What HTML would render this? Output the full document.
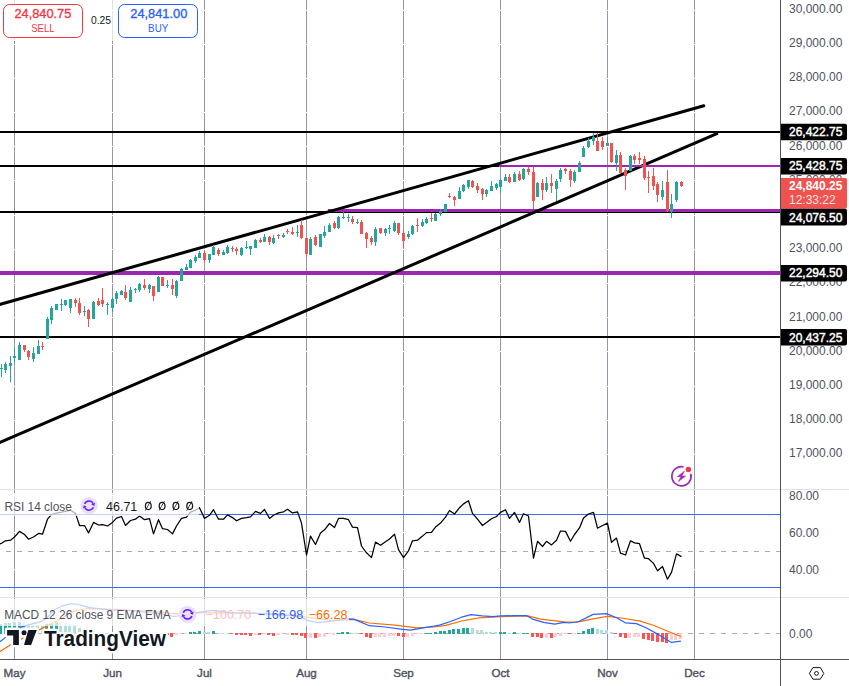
<!DOCTYPE html>
<html><head><meta charset="utf-8"><style>html,body{margin:0;padding:0;background:#fff;width:849px;height:686px;overflow:hidden}</style></head>
<body>
<svg width="849" height="686" viewBox="0 0 849 686" style="display:block">
<rect width="849" height="686" fill="#ffffff"/>
<rect x="14" y="0" width="1" height="659" fill="#9598a1"/>
<rect x="112" y="0" width="1" height="659" fill="#9598a1"/>
<rect x="204" y="0" width="1" height="659" fill="#9598a1"/>
<rect x="306" y="0" width="1" height="659" fill="#9598a1"/>
<rect x="403" y="0" width="1" height="659" fill="#9598a1"/>
<rect x="500" y="0" width="1" height="659" fill="#9598a1"/>
<rect x="607" y="0" width="1" height="659" fill="#9598a1"/>
<rect x="694" y="0" width="1" height="659" fill="#9598a1"/>
<rect x="0" y="454" width="780" height="1" fill="#ffffff"/>
<rect x="0" y="420" width="780" height="1" fill="#ffffff"/>
<rect x="0" y="386" width="780" height="1" fill="#ffffff"/>
<rect x="0" y="351" width="780" height="1" fill="#ffffff"/>
<rect x="0" y="317" width="780" height="1" fill="#ffffff"/>
<rect x="0" y="283" width="780" height="1" fill="#ffffff"/>
<rect x="0" y="249" width="780" height="1" fill="#ffffff"/>
<rect x="0" y="215" width="780" height="1" fill="#ffffff"/>
<rect x="0" y="180" width="780" height="1" fill="#ffffff"/>
<rect x="0" y="146" width="780" height="1" fill="#ffffff"/>
<rect x="0" y="112" width="780" height="1" fill="#ffffff"/>
<rect x="0" y="78" width="780" height="1" fill="#ffffff"/>
<rect x="0" y="44" width="780" height="1" fill="#ffffff"/>
<rect x="0" y="10" width="780" height="1" fill="#ffffff"/>
<rect x="0" y="495" width="780" height="1" fill="#ffffff"/>
<rect x="0" y="532" width="780" height="1" fill="#ffffff"/>
<rect x="0" y="569" width="780" height="1" fill="#ffffff"/>
<rect x="0" y="489" width="849" height="1" fill="#e0e3eb"/>
<rect x="0" y="597" width="849" height="1" fill="#e0e3eb"/>
<rect x="0" y="131" width="780" height="2" fill="#000"/>
<rect x="0" y="165" width="780" height="2" fill="#000"/>
<rect x="0" y="211" width="780" height="2" fill="#000"/>
<rect x="328" y="209" width="452" height="3" fill="#9c27b0"/>
<rect x="0" y="271" width="780" height="4" fill="#9c27b0"/>
<rect x="0" y="336" width="780" height="2" fill="#000"/>
<line x1="-2" y1="443.26" x2="718" y2="133.2" stroke="#000" stroke-width="3" stroke-linecap="butt"/>
<rect x="499" y="165" width="281" height="2" fill="#9c27b0"/>
<line x1="-2" y1="304.96" x2="703.8" y2="105.8" stroke="#000" stroke-width="3" stroke-linecap="round"/>
<rect x="1" y="364" width="1" height="13" fill="#26a69a"/>
<rect x="0" y="368" width="3" height="1" fill="#26a69a"/>
<rect x="5" y="362" width="1" height="11" fill="#26a69a"/>
<rect x="4" y="364" width="3" height="6" fill="#26a69a"/>
<rect x="10" y="356" width="1" height="26" fill="#26a69a"/>
<rect x="9" y="363" width="3" height="3" fill="#26a69a"/>
<rect x="14" y="347" width="1" height="15" fill="#26a69a"/>
<rect x="13" y="356" width="3" height="2" fill="#26a69a"/>
<rect x="19" y="342" width="1" height="18" fill="#26a69a"/>
<rect x="18" y="345" width="3" height="15" fill="#26a69a"/>
<rect x="24" y="345" width="1" height="7" fill="#ef5350"/>
<rect x="23" y="345" width="3" height="5" fill="#ef5350"/>
<rect x="28" y="350" width="1" height="10" fill="#ef5350"/>
<rect x="27" y="351" width="3" height="6" fill="#ef5350"/>
<rect x="33" y="347" width="1" height="15" fill="#26a69a"/>
<rect x="32" y="353" width="3" height="6" fill="#26a69a"/>
<rect x="38" y="340" width="1" height="14" fill="#26a69a"/>
<rect x="37" y="346" width="3" height="8" fill="#26a69a"/>
<rect x="42" y="342" width="1" height="8" fill="#ef5350"/>
<rect x="41" y="346" width="3" height="1" fill="#ef5350"/>
<rect x="47" y="317" width="1" height="22" fill="#26a69a"/>
<rect x="46" y="319" width="3" height="20" fill="#26a69a"/>
<rect x="51" y="306" width="1" height="18" fill="#26a69a"/>
<rect x="50" y="308" width="3" height="12" fill="#26a69a"/>
<rect x="56" y="304" width="1" height="6" fill="#26a69a"/>
<rect x="55" y="304" width="3" height="6" fill="#26a69a"/>
<rect x="61" y="299" width="1" height="12" fill="#26a69a"/>
<rect x="60" y="304" width="3" height="1" fill="#26a69a"/>
<rect x="65" y="300" width="1" height="6" fill="#26a69a"/>
<rect x="64" y="300" width="3" height="5" fill="#26a69a"/>
<rect x="70" y="299" width="1" height="14" fill="#26a69a"/>
<rect x="69" y="299" width="3" height="9" fill="#26a69a"/>
<rect x="75" y="298" width="1" height="9" fill="#ef5350"/>
<rect x="74" y="300" width="3" height="3" fill="#ef5350"/>
<rect x="79" y="298" width="1" height="17" fill="#ef5350"/>
<rect x="78" y="303" width="3" height="10" fill="#ef5350"/>
<rect x="84" y="306" width="1" height="10" fill="#26a69a"/>
<rect x="83" y="311" width="3" height="1" fill="#26a69a"/>
<rect x="88" y="309" width="1" height="18" fill="#ef5350"/>
<rect x="87" y="310" width="3" height="9" fill="#ef5350"/>
<rect x="93" y="301" width="1" height="18" fill="#26a69a"/>
<rect x="92" y="302" width="3" height="17" fill="#26a69a"/>
<rect x="98" y="298" width="1" height="8" fill="#ef5350"/>
<rect x="97" y="301" width="3" height="4" fill="#ef5350"/>
<rect x="102" y="288" width="1" height="19" fill="#ef5350"/>
<rect x="101" y="300" width="3" height="4" fill="#ef5350"/>
<rect x="107" y="302" width="1" height="13" fill="#26a69a"/>
<rect x="106" y="304" width="3" height="1" fill="#26a69a"/>
<rect x="112" y="298" width="1" height="14" fill="#26a69a"/>
<rect x="111" y="299" width="3" height="9" fill="#26a69a"/>
<rect x="116" y="291" width="1" height="13" fill="#26a69a"/>
<rect x="115" y="293" width="3" height="6" fill="#26a69a"/>
<rect x="121" y="290" width="1" height="5" fill="#26a69a"/>
<rect x="120" y="291" width="3" height="4" fill="#26a69a"/>
<rect x="125" y="285" width="1" height="15" fill="#ef5350"/>
<rect x="124" y="292" width="3" height="6" fill="#ef5350"/>
<rect x="130" y="287" width="1" height="15" fill="#26a69a"/>
<rect x="129" y="290" width="3" height="12" fill="#26a69a"/>
<rect x="135" y="288" width="1" height="5" fill="#26a69a"/>
<rect x="134" y="289" width="3" height="1" fill="#26a69a"/>
<rect x="139" y="283" width="1" height="9" fill="#26a69a"/>
<rect x="138" y="284" width="3" height="6" fill="#26a69a"/>
<rect x="144" y="279" width="1" height="11" fill="#ef5350"/>
<rect x="143" y="285" width="3" height="3" fill="#ef5350"/>
<rect x="149" y="284" width="1" height="9" fill="#26a69a"/>
<rect x="148" y="285" width="3" height="4" fill="#26a69a"/>
<rect x="153" y="286" width="1" height="15" fill="#ef5350"/>
<rect x="152" y="286" width="3" height="10" fill="#ef5350"/>
<rect x="158" y="276" width="1" height="16" fill="#26a69a"/>
<rect x="157" y="277" width="3" height="15" fill="#26a69a"/>
<rect x="162" y="277" width="1" height="9" fill="#ef5350"/>
<rect x="161" y="277" width="3" height="9" fill="#ef5350"/>
<rect x="167" y="280" width="1" height="8" fill="#26a69a"/>
<rect x="166" y="285" width="3" height="1" fill="#26a69a"/>
<rect x="172" y="279" width="1" height="16" fill="#ef5350"/>
<rect x="171" y="285" width="3" height="4" fill="#ef5350"/>
<rect x="176" y="280" width="1" height="18" fill="#26a69a"/>
<rect x="175" y="281" width="3" height="15" fill="#26a69a"/>
<rect x="181" y="268" width="1" height="13" fill="#26a69a"/>
<rect x="180" y="269" width="3" height="12" fill="#26a69a"/>
<rect x="186" y="264" width="1" height="6" fill="#26a69a"/>
<rect x="185" y="267" width="3" height="3" fill="#26a69a"/>
<rect x="190" y="259" width="1" height="9" fill="#26a69a"/>
<rect x="189" y="260" width="3" height="8" fill="#26a69a"/>
<rect x="195" y="255" width="1" height="8" fill="#26a69a"/>
<rect x="194" y="257" width="3" height="4" fill="#26a69a"/>
<rect x="199" y="251" width="1" height="7" fill="#26a69a"/>
<rect x="198" y="253" width="3" height="5" fill="#26a69a"/>
<rect x="204" y="250" width="1" height="13" fill="#ef5350"/>
<rect x="203" y="253" width="3" height="7" fill="#ef5350"/>
<rect x="209" y="254" width="1" height="9" fill="#26a69a"/>
<rect x="208" y="254" width="3" height="6" fill="#26a69a"/>
<rect x="213" y="245" width="1" height="10" fill="#26a69a"/>
<rect x="212" y="247" width="3" height="8" fill="#26a69a"/>
<rect x="218" y="248" width="1" height="8" fill="#ef5350"/>
<rect x="217" y="250" width="3" height="4" fill="#ef5350"/>
<rect x="223" y="250" width="1" height="5" fill="#26a69a"/>
<rect x="222" y="252" width="3" height="3" fill="#26a69a"/>
<rect x="227" y="245" width="1" height="9" fill="#26a69a"/>
<rect x="226" y="247" width="3" height="6" fill="#26a69a"/>
<rect x="232" y="246" width="1" height="6" fill="#ef5350"/>
<rect x="231" y="248" width="3" height="1" fill="#ef5350"/>
<rect x="236" y="247" width="1" height="8" fill="#ef5350"/>
<rect x="235" y="249" width="3" height="2" fill="#ef5350"/>
<rect x="241" y="247" width="1" height="9" fill="#26a69a"/>
<rect x="240" y="248" width="3" height="7" fill="#26a69a"/>
<rect x="246" y="241" width="1" height="8" fill="#26a69a"/>
<rect x="245" y="247" width="3" height="1" fill="#26a69a"/>
<rect x="250" y="246" width="1" height="9" fill="#26a69a"/>
<rect x="249" y="246" width="3" height="3" fill="#26a69a"/>
<rect x="255" y="239" width="1" height="9" fill="#26a69a"/>
<rect x="254" y="240" width="3" height="8" fill="#26a69a"/>
<rect x="260" y="238" width="1" height="5" fill="#ef5350"/>
<rect x="259" y="240" width="3" height="2" fill="#ef5350"/>
<rect x="264" y="234" width="1" height="8" fill="#26a69a"/>
<rect x="263" y="237" width="3" height="5" fill="#26a69a"/>
<rect x="269" y="236" width="1" height="9" fill="#ef5350"/>
<rect x="268" y="237" width="3" height="5" fill="#ef5350"/>
<rect x="273" y="235" width="1" height="9" fill="#26a69a"/>
<rect x="272" y="238" width="3" height="5" fill="#26a69a"/>
<rect x="278" y="234" width="1" height="5" fill="#ef5350"/>
<rect x="277" y="235" width="3" height="1" fill="#ef5350"/>
<rect x="283" y="233" width="1" height="5" fill="#26a69a"/>
<rect x="282" y="235" width="3" height="2" fill="#26a69a"/>
<rect x="287" y="229" width="1" height="5" fill="#ef5350"/>
<rect x="286" y="231" width="3" height="1" fill="#ef5350"/>
<rect x="292" y="227" width="1" height="8" fill="#ef5350"/>
<rect x="291" y="232" width="3" height="2" fill="#ef5350"/>
<rect x="297" y="225" width="1" height="12" fill="#26a69a"/>
<rect x="296" y="232" width="3" height="1" fill="#26a69a"/>
<rect x="301" y="220" width="1" height="19" fill="#ef5350"/>
<rect x="300" y="225" width="3" height="13" fill="#ef5350"/>
<rect x="306" y="238" width="1" height="19" fill="#ef5350"/>
<rect x="305" y="238" width="3" height="16" fill="#ef5350"/>
<rect x="310" y="237" width="1" height="18" fill="#26a69a"/>
<rect x="309" y="239" width="3" height="16" fill="#26a69a"/>
<rect x="315" y="235" width="1" height="11" fill="#ef5350"/>
<rect x="314" y="237" width="3" height="8" fill="#ef5350"/>
<rect x="320" y="234" width="1" height="13" fill="#26a69a"/>
<rect x="319" y="234" width="3" height="13" fill="#26a69a"/>
<rect x="324" y="226" width="1" height="12" fill="#26a69a"/>
<rect x="323" y="232" width="3" height="4" fill="#26a69a"/>
<rect x="329" y="223" width="1" height="9" fill="#26a69a"/>
<rect x="328" y="225" width="3" height="7" fill="#26a69a"/>
<rect x="334" y="221" width="1" height="8" fill="#ef5350"/>
<rect x="333" y="223" width="3" height="5" fill="#ef5350"/>
<rect x="338" y="216" width="1" height="13" fill="#26a69a"/>
<rect x="337" y="217" width="3" height="11" fill="#26a69a"/>
<rect x="343" y="212" width="1" height="7" fill="#26a69a"/>
<rect x="342" y="217" width="3" height="1" fill="#26a69a"/>
<rect x="348" y="214" width="1" height="8" fill="#26a69a"/>
<rect x="347" y="217" width="3" height="1" fill="#26a69a"/>
<rect x="352" y="216" width="1" height="8" fill="#ef5350"/>
<rect x="351" y="219" width="3" height="3" fill="#ef5350"/>
<rect x="357" y="219" width="1" height="5" fill="#26a69a"/>
<rect x="356" y="222" width="3" height="1" fill="#26a69a"/>
<rect x="361" y="220" width="1" height="14" fill="#ef5350"/>
<rect x="360" y="222" width="3" height="12" fill="#ef5350"/>
<rect x="366" y="232" width="1" height="16" fill="#ef5350"/>
<rect x="365" y="233" width="3" height="6" fill="#ef5350"/>
<rect x="371" y="236" width="1" height="9" fill="#ef5350"/>
<rect x="370" y="238" width="3" height="4" fill="#ef5350"/>
<rect x="375" y="227" width="1" height="19" fill="#26a69a"/>
<rect x="374" y="229" width="3" height="13" fill="#26a69a"/>
<rect x="380" y="228" width="1" height="6" fill="#ef5350"/>
<rect x="379" y="228" width="3" height="5" fill="#ef5350"/>
<rect x="385" y="228" width="1" height="8" fill="#26a69a"/>
<rect x="384" y="229" width="3" height="4" fill="#26a69a"/>
<rect x="389" y="225" width="1" height="9" fill="#26a69a"/>
<rect x="388" y="228" width="3" height="1" fill="#26a69a"/>
<rect x="394" y="221" width="1" height="11" fill="#26a69a"/>
<rect x="393" y="223" width="3" height="8" fill="#26a69a"/>
<rect x="398" y="223" width="1" height="12" fill="#ef5350"/>
<rect x="397" y="223" width="3" height="10" fill="#ef5350"/>
<rect x="403" y="230" width="1" height="18" fill="#ef5350"/>
<rect x="402" y="233" width="3" height="8" fill="#ef5350"/>
<rect x="408" y="231" width="1" height="8" fill="#26a69a"/>
<rect x="407" y="234" width="3" height="3" fill="#26a69a"/>
<rect x="412" y="225" width="1" height="10" fill="#26a69a"/>
<rect x="411" y="226" width="3" height="8" fill="#26a69a"/>
<rect x="417" y="218" width="1" height="14" fill="#ef5350"/>
<rect x="416" y="225" width="3" height="1" fill="#ef5350"/>
<rect x="422" y="219" width="1" height="8" fill="#26a69a"/>
<rect x="421" y="222" width="3" height="4" fill="#26a69a"/>
<rect x="426" y="217" width="1" height="7" fill="#26a69a"/>
<rect x="425" y="219" width="3" height="4" fill="#26a69a"/>
<rect x="431" y="213" width="1" height="9" fill="#ef5350"/>
<rect x="430" y="218" width="3" height="1" fill="#ef5350"/>
<rect x="435" y="213" width="1" height="8" fill="#26a69a"/>
<rect x="434" y="214" width="3" height="7" fill="#26a69a"/>
<rect x="440" y="209" width="1" height="7" fill="#26a69a"/>
<rect x="439" y="211" width="3" height="3" fill="#26a69a"/>
<rect x="445" y="204" width="1" height="8" fill="#26a69a"/>
<rect x="444" y="204" width="3" height="8" fill="#26a69a"/>
<rect x="449" y="193" width="1" height="5" fill="#ef5350"/>
<rect x="448" y="196" width="3" height="1" fill="#ef5350"/>
<rect x="454" y="196" width="1" height="10" fill="#ef5350"/>
<rect x="453" y="197" width="3" height="3" fill="#ef5350"/>
<rect x="459" y="187" width="1" height="12" fill="#26a69a"/>
<rect x="458" y="191" width="3" height="8" fill="#26a69a"/>
<rect x="463" y="184" width="1" height="8" fill="#26a69a"/>
<rect x="462" y="185" width="3" height="6" fill="#26a69a"/>
<rect x="468" y="180" width="1" height="9" fill="#26a69a"/>
<rect x="467" y="180" width="3" height="7" fill="#26a69a"/>
<rect x="472" y="180" width="1" height="8" fill="#ef5350"/>
<rect x="471" y="181" width="3" height="6" fill="#ef5350"/>
<rect x="477" y="183" width="1" height="10" fill="#ef5350"/>
<rect x="476" y="186" width="3" height="4" fill="#ef5350"/>
<rect x="482" y="188" width="1" height="12" fill="#ef5350"/>
<rect x="481" y="189" width="3" height="5" fill="#ef5350"/>
<rect x="486" y="189" width="1" height="8" fill="#26a69a"/>
<rect x="485" y="190" width="3" height="4" fill="#26a69a"/>
<rect x="491" y="181" width="1" height="10" fill="#26a69a"/>
<rect x="490" y="186" width="3" height="5" fill="#26a69a"/>
<rect x="496" y="183" width="1" height="7" fill="#26a69a"/>
<rect x="495" y="184" width="3" height="4" fill="#26a69a"/>
<rect x="500" y="179" width="1" height="14" fill="#26a69a"/>
<rect x="499" y="180" width="3" height="7" fill="#26a69a"/>
<rect x="505" y="174" width="1" height="7" fill="#26a69a"/>
<rect x="504" y="177" width="3" height="4" fill="#26a69a"/>
<rect x="509" y="174" width="1" height="9" fill="#ef5350"/>
<rect x="508" y="177" width="3" height="5" fill="#ef5350"/>
<rect x="514" y="172" width="1" height="10" fill="#26a69a"/>
<rect x="513" y="174" width="3" height="8" fill="#26a69a"/>
<rect x="519" y="171" width="1" height="10" fill="#ef5350"/>
<rect x="518" y="174" width="3" height="6" fill="#ef5350"/>
<rect x="523" y="168" width="1" height="12" fill="#26a69a"/>
<rect x="522" y="169" width="3" height="10" fill="#26a69a"/>
<rect x="528" y="167" width="1" height="8" fill="#ef5350"/>
<rect x="527" y="169" width="3" height="3" fill="#ef5350"/>
<rect x="533" y="167" width="1" height="42" fill="#ef5350"/>
<rect x="532" y="172" width="3" height="29" fill="#ef5350"/>
<rect x="537" y="182" width="1" height="15" fill="#26a69a"/>
<rect x="536" y="183" width="3" height="14" fill="#26a69a"/>
<rect x="542" y="179" width="1" height="21" fill="#ef5350"/>
<rect x="541" y="183" width="3" height="7" fill="#ef5350"/>
<rect x="546" y="177" width="1" height="15" fill="#26a69a"/>
<rect x="545" y="183" width="3" height="7" fill="#26a69a"/>
<rect x="551" y="174" width="1" height="19" fill="#ef5350"/>
<rect x="550" y="183" width="3" height="3" fill="#ef5350"/>
<rect x="556" y="179" width="1" height="22" fill="#26a69a"/>
<rect x="555" y="181" width="3" height="8" fill="#26a69a"/>
<rect x="560" y="168" width="1" height="14" fill="#26a69a"/>
<rect x="559" y="170" width="3" height="9" fill="#26a69a"/>
<rect x="565" y="168" width="1" height="6" fill="#ef5350"/>
<rect x="564" y="169" width="3" height="2" fill="#ef5350"/>
<rect x="570" y="169" width="1" height="18" fill="#ef5350"/>
<rect x="569" y="171" width="3" height="9" fill="#ef5350"/>
<rect x="574" y="170" width="1" height="13" fill="#26a69a"/>
<rect x="573" y="172" width="3" height="9" fill="#26a69a"/>
<rect x="579" y="161" width="1" height="11" fill="#26a69a"/>
<rect x="578" y="163" width="3" height="9" fill="#26a69a"/>
<rect x="583" y="146" width="1" height="11" fill="#26a69a"/>
<rect x="582" y="148" width="3" height="9" fill="#26a69a"/>
<rect x="588" y="138" width="1" height="10" fill="#26a69a"/>
<rect x="587" y="141" width="3" height="6" fill="#26a69a"/>
<rect x="593" y="133" width="1" height="12" fill="#26a69a"/>
<rect x="592" y="137" width="3" height="4" fill="#26a69a"/>
<rect x="597" y="133" width="1" height="18" fill="#ef5350"/>
<rect x="596" y="141" width="3" height="10" fill="#ef5350"/>
<rect x="602" y="137" width="1" height="13" fill="#ef5350"/>
<rect x="601" y="141" width="3" height="6" fill="#ef5350"/>
<rect x="607" y="137" width="1" height="9" fill="#26a69a"/>
<rect x="606" y="143" width="3" height="3" fill="#26a69a"/>
<rect x="611" y="143" width="1" height="20" fill="#ef5350"/>
<rect x="610" y="143" width="3" height="19" fill="#ef5350"/>
<rect x="616" y="150" width="1" height="21" fill="#26a69a"/>
<rect x="615" y="155" width="3" height="8" fill="#26a69a"/>
<rect x="620" y="152" width="1" height="22" fill="#ef5350"/>
<rect x="619" y="155" width="3" height="18" fill="#ef5350"/>
<rect x="625" y="168" width="1" height="22" fill="#ef5350"/>
<rect x="624" y="170" width="3" height="6" fill="#ef5350"/>
<rect x="630" y="155" width="1" height="16" fill="#26a69a"/>
<rect x="629" y="156" width="3" height="15" fill="#26a69a"/>
<rect x="634" y="154" width="1" height="10" fill="#ef5350"/>
<rect x="633" y="156" width="3" height="4" fill="#ef5350"/>
<rect x="639" y="152" width="1" height="12" fill="#ef5350"/>
<rect x="638" y="158" width="3" height="2" fill="#ef5350"/>
<rect x="644" y="156" width="1" height="24" fill="#ef5350"/>
<rect x="643" y="159" width="3" height="19" fill="#ef5350"/>
<rect x="648" y="171" width="1" height="22" fill="#ef5350"/>
<rect x="647" y="177" width="3" height="1" fill="#ef5350"/>
<rect x="653" y="168" width="1" height="22" fill="#ef5350"/>
<rect x="652" y="176" width="3" height="10" fill="#ef5350"/>
<rect x="657" y="182" width="1" height="20" fill="#ef5350"/>
<rect x="656" y="184" width="3" height="11" fill="#ef5350"/>
<rect x="662" y="181" width="1" height="19" fill="#26a69a"/>
<rect x="661" y="190" width="3" height="7" fill="#26a69a"/>
<rect x="667" y="170" width="1" height="42" fill="#ef5350"/>
<rect x="666" y="182" width="3" height="29" fill="#ef5350"/>
<rect x="671" y="194" width="1" height="24" fill="#26a69a"/>
<rect x="670" y="204" width="3" height="8" fill="#26a69a"/>
<rect x="676" y="181" width="1" height="21" fill="#26a69a"/>
<rect x="675" y="182" width="3" height="18" fill="#26a69a"/>
<rect x="681" y="181" width="1" height="6" fill="#ef5350"/>
<rect x="680" y="182" width="3" height="4" fill="#ef5350"/>
<path d="M690.77,473.82 A9.6,9.6 0 1 1 683.5,466.9" fill="none" stroke="#9c27b0" stroke-width="1.7"/>
<circle cx="688.4" cy="469.4" r="2.7" fill="#f23645"/>
<path d="M684.4,471.2 L677.3,476.7 L681.2,476.7 L678.3,481.6 L685.6,476.1 L681.7,476.1 Z" fill="#9c27b0" stroke="#9c27b0" stroke-width="0.6" stroke-linejoin="round"/>
<rect x="0" y="514" width="780" height="1" fill="#3b6cff"/>
<rect x="0" y="587" width="780" height="1" fill="#3b6cff"/>
<line x1="6" y1="551.5" x2="780" y2="551.5" stroke="#a8abb3" stroke-width="1" stroke-dasharray="5 6"/>
<defs><clipPath id="ob"><rect x="0" y="489" width="780" height="25.5"/></clipPath></defs>
<polygon points="-4,545 1.50,543.30 5.50,540.80 10.50,540.20 14.50,537.00 19.50,531.40 24.50,534.50 28.50,539.20 33.50,537.00 38.50,533.40 42.50,534.20 47.50,519.20 51.50,514.50 56.50,513.20 61.50,512.10 65.50,511.30 70.50,510.20 75.50,513.40 79.50,525.50 84.50,525.50 88.50,532.90 93.50,522.40 98.50,525.00 102.50,524.70 107.50,526.00 112.50,522.40 116.50,518.10 121.50,516.50 125.50,525.50 130.50,520.50 135.50,519.20 139.50,516.00 144.50,519.70 149.50,518.70 153.50,533.90 158.50,519.70 162.50,528.70 167.50,529.50 172.50,533.90 176.50,526.00 181.50,518.40 186.50,517.10 190.50,512.10 195.50,510.20 199.50,507.70 204.50,518.40 209.50,515.30 213.50,509.70 218.50,519.20 223.50,519.20 227.50,514.90 232.50,517.60 236.50,520.80 241.50,518.40 246.50,517.60 250.50,516.80 255.50,511.30 260.50,513.40 264.50,509.50 269.50,518.40 273.50,515.30 278.50,512.90 283.50,511.80 287.50,509.30 292.50,512.90 297.50,511.80 301.50,523.10 306.50,555.00 310.50,536.10 315.50,544.50 320.50,532.90 324.50,529.80 329.50,523.50 334.50,527.60 338.50,518.40 343.50,518.40 348.50,519.70 352.50,527.10 357.50,527.60 361.50,546.00 366.50,552.80 371.50,557.60 375.50,542.10 380.50,545.20 385.50,541.80 389.50,539.00 394.50,534.20 398.50,549.70 403.50,557.60 408.50,550.80 412.50,540.80 417.50,540.20 422.50,536.10 426.50,532.60 431.50,532.30 435.50,527.10 440.50,523.10 445.50,517.10 449.50,510.50 454.50,514.00 459.50,507.70 463.50,503.90 468.50,500.70 472.50,513.40 477.50,519.20 482.50,525.50 486.50,522.40 491.50,518.70 496.50,516.50 500.50,512.40 505.50,509.70 509.50,518.40 514.50,512.40 519.50,522.40 523.50,513.70 528.50,516.00 533.50,558.20 537.50,541.30 542.50,546.50 546.50,541.30 551.50,544.90 556.50,540.20 560.50,531.00 565.50,531.40 570.50,541.30 574.50,534.50 579.50,527.90 583.50,518.10 588.50,514.00 593.50,512.40 597.50,528.20 602.50,525.50 607.50,523.10 611.50,542.30 616.50,538.10 620.50,553.10 625.50,555.00 630.50,540.80 634.50,542.90 639.50,543.70 644.50,558.20 648.50,558.70 653.50,563.40 657.50,570.80 662.50,566.50 667.50,579.20 671.50,572.40 676.50,553.90 681.50,556.60 682,545" fill="#4caf50" fill-opacity="0.07" clip-path="url(#ob)"/>
<polyline points="-4,545 1.50,543.30 5.50,540.80 10.50,540.20 14.50,537.00 19.50,531.40 24.50,534.50 28.50,539.20 33.50,537.00 38.50,533.40 42.50,534.20 47.50,519.20 51.50,514.50 56.50,513.20 61.50,512.10 65.50,511.30 70.50,510.20 75.50,513.40 79.50,525.50 84.50,525.50 88.50,532.90 93.50,522.40 98.50,525.00 102.50,524.70 107.50,526.00 112.50,522.40 116.50,518.10 121.50,516.50 125.50,525.50 130.50,520.50 135.50,519.20 139.50,516.00 144.50,519.70 149.50,518.70 153.50,533.90 158.50,519.70 162.50,528.70 167.50,529.50 172.50,533.90 176.50,526.00 181.50,518.40 186.50,517.10 190.50,512.10 195.50,510.20 199.50,507.70 204.50,518.40 209.50,515.30 213.50,509.70 218.50,519.20 223.50,519.20 227.50,514.90 232.50,517.60 236.50,520.80 241.50,518.40 246.50,517.60 250.50,516.80 255.50,511.30 260.50,513.40 264.50,509.50 269.50,518.40 273.50,515.30 278.50,512.90 283.50,511.80 287.50,509.30 292.50,512.90 297.50,511.80 301.50,523.10 306.50,555.00 310.50,536.10 315.50,544.50 320.50,532.90 324.50,529.80 329.50,523.50 334.50,527.60 338.50,518.40 343.50,518.40 348.50,519.70 352.50,527.10 357.50,527.60 361.50,546.00 366.50,552.80 371.50,557.60 375.50,542.10 380.50,545.20 385.50,541.80 389.50,539.00 394.50,534.20 398.50,549.70 403.50,557.60 408.50,550.80 412.50,540.80 417.50,540.20 422.50,536.10 426.50,532.60 431.50,532.30 435.50,527.10 440.50,523.10 445.50,517.10 449.50,510.50 454.50,514.00 459.50,507.70 463.50,503.90 468.50,500.70 472.50,513.40 477.50,519.20 482.50,525.50 486.50,522.40 491.50,518.70 496.50,516.50 500.50,512.40 505.50,509.70 509.50,518.40 514.50,512.40 519.50,522.40 523.50,513.70 528.50,516.00 533.50,558.20 537.50,541.30 542.50,546.50 546.50,541.30 551.50,544.90 556.50,540.20 560.50,531.00 565.50,531.40 570.50,541.30 574.50,534.50 579.50,527.90 583.50,518.10 588.50,514.00 593.50,512.40 597.50,528.20 602.50,525.50 607.50,523.10 611.50,542.30 616.50,538.10 620.50,553.10 625.50,555.00 630.50,540.80 634.50,542.90 639.50,543.70 644.50,558.20 648.50,558.70 653.50,563.40 657.50,570.80 662.50,566.50 667.50,579.20 671.50,572.40 676.50,553.90 681.50,556.60" fill="none" stroke="#000000" stroke-width="1.25" stroke-linejoin="round"/>
<line x1="6" y1="633.5" x2="780" y2="633.5" stroke="#a8abb3" stroke-width="1" stroke-dasharray="5 6"/>
<rect x="-1" y="624" width="3" height="10" fill="#26a69a"/>
<rect x="4" y="623" width="3" height="11" fill="#26a69a"/>
<rect x="8" y="623" width="3" height="11" fill="#26a69a"/>
<rect x="13" y="622" width="3" height="12" fill="#26a69a"/>
<rect x="18" y="622" width="3" height="12" fill="#26a69a"/>
<rect x="22" y="622" width="3" height="12" fill="#b2dfdb"/>
<rect x="27" y="624" width="3" height="10" fill="#b2dfdb"/>
<rect x="31" y="625" width="3" height="9" fill="#b2dfdb"/>
<rect x="36" y="625" width="3" height="9" fill="#b2dfdb"/>
<rect x="41" y="625" width="3" height="9" fill="#b2dfdb"/>
<rect x="45" y="624" width="3" height="10" fill="#26a69a"/>
<rect x="50" y="624" width="3" height="10" fill="#26a69a"/>
<rect x="55" y="622" width="3" height="12" fill="#26a69a"/>
<rect x="59" y="622" width="3" height="12" fill="#b2dfdb"/>
<rect x="64" y="623" width="3" height="11" fill="#b2dfdb"/>
<rect x="68" y="624" width="3" height="10" fill="#b2dfdb"/>
<rect x="73" y="625" width="3" height="9" fill="#b2dfdb"/>
<rect x="78" y="628" width="3" height="6" fill="#b2dfdb"/>
<rect x="82" y="630" width="3" height="4" fill="#b2dfdb"/>
<rect x="87" y="633" width="3" height="1" fill="#b2dfdb"/>
<rect x="92" y="633" width="3" height="1" fill="#b2dfdb"/>
<rect x="96" y="633" width="3" height="1" fill="#b2dfdb"/>
<rect x="101" y="633" width="3" height="1" fill="#b2dfdb"/>
<rect x="105" y="633" width="3" height="1" fill="#b2dfdb"/>
<rect x="110" y="633" width="3" height="1" fill="#b2dfdb"/>
<rect x="115" y="633" width="3" height="1" fill="#b2dfdb"/>
<rect x="119" y="633" width="3" height="1" fill="#b2dfdb"/>
<rect x="124" y="633" width="3" height="1" fill="#b2dfdb"/>
<rect x="129" y="633" width="3" height="1" fill="#b2dfdb"/>
<rect x="133" y="633" width="3" height="1" fill="#b2dfdb"/>
<rect x="138" y="633" width="3" height="1" fill="#ffcdd2"/>
<rect x="142" y="633" width="3" height="1" fill="#ffcdd2"/>
<rect x="147" y="633" width="3" height="1" fill="#ffcdd2"/>
<rect x="152" y="633" width="3" height="1" fill="#ffcdd2"/>
<rect x="156" y="633" width="3" height="1" fill="#ffcdd2"/>
<rect x="161" y="633" width="3" height="1" fill="#ffcdd2"/>
<rect x="166" y="633" width="3" height="2" fill="#ff5252"/>
<rect x="170" y="633" width="3" height="4" fill="#ff5252"/>
<rect x="175" y="633" width="3" height="2" fill="#ffcdd2"/>
<rect x="179" y="633" width="3" height="1" fill="#ffcdd2"/>
<rect x="184" y="633" width="3" height="1" fill="#ffcdd2"/>
<rect x="189" y="632" width="3" height="2" fill="#26a69a"/>
<rect x="193" y="632" width="3" height="2" fill="#26a69a"/>
<rect x="198" y="631" width="3" height="3" fill="#26a69a"/>
<rect x="203" y="632" width="3" height="2" fill="#b2dfdb"/>
<rect x="207" y="632" width="3" height="2" fill="#b2dfdb"/>
<rect x="212" y="631" width="3" height="3" fill="#26a69a"/>
<rect x="217" y="633" width="3" height="1" fill="#b2dfdb"/>
<rect x="221" y="633" width="3" height="1" fill="#b2dfdb"/>
<rect x="226" y="633" width="3" height="1" fill="#b2dfdb"/>
<rect x="230" y="633" width="3" height="1" fill="#ff5252"/>
<rect x="235" y="633" width="3" height="2" fill="#ff5252"/>
<rect x="240" y="633" width="3" height="2" fill="#ff5252"/>
<rect x="244" y="633" width="3" height="2" fill="#ff5252"/>
<rect x="249" y="633" width="3" height="3" fill="#ff5252"/>
<rect x="254" y="633" width="3" height="2" fill="#ffcdd2"/>
<rect x="258" y="633" width="3" height="2" fill="#ff5252"/>
<rect x="263" y="633" width="3" height="1" fill="#ffcdd2"/>
<rect x="267" y="633" width="3" height="2" fill="#ff5252"/>
<rect x="272" y="633" width="3" height="3" fill="#ff5252"/>
<rect x="277" y="633" width="3" height="2" fill="#ffcdd2"/>
<rect x="281" y="633" width="3" height="1" fill="#ffcdd2"/>
<rect x="286" y="633" width="3" height="2" fill="#ffcdd2"/>
<rect x="291" y="633" width="3" height="2" fill="#ff5252"/>
<rect x="295" y="633" width="3" height="2" fill="#ff5252"/>
<rect x="300" y="633" width="3" height="3" fill="#ff5252"/>
<rect x="304" y="633" width="3" height="5" fill="#ff5252"/>
<rect x="309" y="633" width="3" height="5" fill="#ffcdd2"/>
<rect x="314" y="633" width="3" height="5" fill="#ff5252"/>
<rect x="318" y="633" width="3" height="4" fill="#ffcdd2"/>
<rect x="323" y="633" width="3" height="4" fill="#ffcdd2"/>
<rect x="328" y="633" width="3" height="1" fill="#ffcdd2"/>
<rect x="332" y="633" width="3" height="2" fill="#ffcdd2"/>
<rect x="337" y="633" width="3" height="1" fill="#26a69a"/>
<rect x="341" y="632" width="3" height="2" fill="#26a69a"/>
<rect x="346" y="632" width="3" height="2" fill="#26a69a"/>
<rect x="351" y="633" width="3" height="1" fill="#b2dfdb"/>
<rect x="355" y="633" width="3" height="1" fill="#b2dfdb"/>
<rect x="360" y="633" width="3" height="1" fill="#ff5252"/>
<rect x="365" y="633" width="3" height="4" fill="#ff5252"/>
<rect x="369" y="633" width="3" height="5" fill="#ff5252"/>
<rect x="374" y="633" width="3" height="4" fill="#ffcdd2"/>
<rect x="378" y="633" width="3" height="4" fill="#ffcdd2"/>
<rect x="383" y="633" width="3" height="4" fill="#ffcdd2"/>
<rect x="388" y="633" width="3" height="3" fill="#ffcdd2"/>
<rect x="392" y="633" width="3" height="3" fill="#ffcdd2"/>
<rect x="397" y="633" width="3" height="3" fill="#ff5252"/>
<rect x="402" y="633" width="3" height="4" fill="#ff5252"/>
<rect x="406" y="633" width="3" height="4" fill="#ffcdd2"/>
<rect x="411" y="633" width="3" height="3" fill="#ffcdd2"/>
<rect x="415" y="633" width="3" height="1" fill="#ffcdd2"/>
<rect x="420" y="633" width="3" height="1" fill="#ffcdd2"/>
<rect x="425" y="633" width="3" height="1" fill="#26a69a"/>
<rect x="429" y="633" width="3" height="1" fill="#26a69a"/>
<rect x="434" y="632" width="3" height="2" fill="#26a69a"/>
<rect x="439" y="631" width="3" height="3" fill="#26a69a"/>
<rect x="443" y="631" width="3" height="3" fill="#26a69a"/>
<rect x="448" y="630" width="3" height="4" fill="#26a69a"/>
<rect x="452" y="629" width="3" height="5" fill="#26a69a"/>
<rect x="457" y="629" width="3" height="5" fill="#26a69a"/>
<rect x="462" y="628" width="3" height="6" fill="#26a69a"/>
<rect x="466" y="628" width="3" height="6" fill="#26a69a"/>
<rect x="471" y="628" width="3" height="6" fill="#b2dfdb"/>
<rect x="476" y="630" width="3" height="4" fill="#b2dfdb"/>
<rect x="480" y="630" width="3" height="4" fill="#b2dfdb"/>
<rect x="485" y="632" width="3" height="2" fill="#b2dfdb"/>
<rect x="489" y="632" width="3" height="2" fill="#b2dfdb"/>
<rect x="494" y="632" width="3" height="2" fill="#b2dfdb"/>
<rect x="499" y="632" width="3" height="2" fill="#26a69a"/>
<rect x="503" y="632" width="3" height="2" fill="#26a69a"/>
<rect x="508" y="633" width="3" height="1" fill="#b2dfdb"/>
<rect x="513" y="632" width="3" height="2" fill="#26a69a"/>
<rect x="517" y="633" width="3" height="1" fill="#b2dfdb"/>
<rect x="522" y="633" width="3" height="1" fill="#26a69a"/>
<rect x="526" y="633" width="3" height="1" fill="#26a69a"/>
<rect x="531" y="633" width="3" height="4" fill="#ff5252"/>
<rect x="536" y="633" width="3" height="4" fill="#ff5252"/>
<rect x="540" y="633" width="3" height="5" fill="#ff5252"/>
<rect x="545" y="633" width="3" height="5" fill="#ffcdd2"/>
<rect x="550" y="633" width="3" height="5" fill="#ff5252"/>
<rect x="554" y="633" width="3" height="4" fill="#ffcdd2"/>
<rect x="559" y="633" width="3" height="3" fill="#ffcdd2"/>
<rect x="563" y="633" width="3" height="1" fill="#ffcdd2"/>
<rect x="568" y="633" width="3" height="1" fill="#ff5252"/>
<rect x="573" y="633" width="3" height="1" fill="#ffcdd2"/>
<rect x="577" y="633" width="3" height="1" fill="#26a69a"/>
<rect x="582" y="631" width="3" height="3" fill="#26a69a"/>
<rect x="587" y="629" width="3" height="5" fill="#26a69a"/>
<rect x="591" y="628" width="3" height="6" fill="#26a69a"/>
<rect x="596" y="629" width="3" height="5" fill="#b2dfdb"/>
<rect x="600" y="630" width="3" height="4" fill="#b2dfdb"/>
<rect x="605" y="630" width="3" height="4" fill="#b2dfdb"/>
<rect x="610" y="632" width="3" height="2" fill="#b2dfdb"/>
<rect x="614" y="633" width="3" height="1" fill="#ff5252"/>
<rect x="619" y="633" width="3" height="4" fill="#ff5252"/>
<rect x="624" y="633" width="3" height="5" fill="#ff5252"/>
<rect x="628" y="633" width="3" height="5" fill="#ffcdd2"/>
<rect x="633" y="633" width="3" height="4" fill="#ffcdd2"/>
<rect x="637" y="633" width="3" height="4" fill="#ffcdd2"/>
<rect x="642" y="633" width="3" height="6" fill="#ff5252"/>
<rect x="647" y="633" width="3" height="7" fill="#ff5252"/>
<rect x="651" y="633" width="3" height="8" fill="#ff5252"/>
<rect x="656" y="633" width="3" height="9" fill="#ff5252"/>
<rect x="661" y="633" width="3" height="9" fill="#ff5252"/>
<rect x="665" y="633" width="3" height="10" fill="#ff5252"/>
<rect x="670" y="633" width="3" height="7" fill="#ffcdd2"/>
<rect x="674" y="633" width="3" height="7" fill="#ffcdd2"/>
<rect x="679" y="633" width="3" height="6" fill="#ffcdd2"/>
<polyline points="0.0,651.4 10.6,644.7 40.0,629.4 47.1,625.9 54.2,622.3 62.4,618.2 69.5,612.9 76.6,610.5 84.8,609.0 93.0,608.6 126.0,609.9 159.0,612.2 175.5,613.8 188.7,613.5 200.0,612.8 247.3,612.8 294.7,615.2 310.5,617.8 331.6,620.4 353.7,619.4 369.4,623.0 394.7,625.1 416.8,627.8 434.0,627.0 445.8,625.4 461.6,621.0 478.9,617.8 500.9,616.7 527.9,615.9 540.5,619.1 564.0,621.9 575.8,622.3 591.6,619.1 607.3,616.3 621.5,618.0 640.2,621.1 654.0,625.5 669.0,631.8 680.9,636.5" fill="none" stroke="#ff6d00" stroke-width="1.2" stroke-linejoin="round"/>
<polyline points="0.0,641.8 5.3,637.6 20.0,627.4 29.4,624.7 41.2,621.7 47.1,617.6 54.2,610.0 62.4,605.8 70.7,603.8 76.6,604.0 89.7,607.7 109.5,609.9 134.3,611.0 159.0,613.5 173.9,616.5 185.4,615.2 200.0,612.2 213.6,610.4 231.6,612.8 263.1,613.6 301.0,616.7 307.3,620.4 318.4,622.6 333.1,621.0 347.3,618.8 353.7,619.1 369.4,625.7 385.2,627.0 402.6,629.4 410.5,630.1 423.1,627.8 434.0,626.2 439.5,625.1 450.5,621.5 461.6,617.2 471.0,614.7 482.1,615.9 493.1,616.7 500.9,615.9 513.6,615.6 526.3,615.6 532.6,619.1 543.6,622.3 554.7,624.1 564.0,622.3 569.5,623.0 578.9,621.5 593.1,614.4 606.6,613.6 617.0,618.0 625.2,622.8 636.5,623.6 646.5,628.0 659.0,634.9 671.5,642.4 680.9,641.1" fill="none" stroke="#2962ff" stroke-width="1.2" stroke-linejoin="round"/>
<rect x="0" y="493" width="199" height="23" fill="#ffffff" fill-opacity="0.7"/>
<rect x="0" y="599" width="349" height="27" fill="#ffffff" fill-opacity="0.7"/>
<text x="4.4" y="511" font-family="Liberation Sans, sans-serif" font-size="11.9" fill="#50535e">RSI 14 close</text>
<circle cx="89" cy="505.6" r="8.7" fill="#e8e0ff"/>
<g transform="translate(89,505.6)" fill="#6a1bff"><path d="M-4.32,-1.57 A4.6,4.6 0 0 1 4.17,-1.94" fill="none" stroke="#6a1bff" stroke-width="1.5"/><path d="M5.27,0.42 L6.07,-2.83 L2.27,-1.05 Z"/><path d="M4.32,1.57 A4.6,4.6 0 0 1 -4.17,1.94" fill="none" stroke="#6a1bff" stroke-width="1.5"/><path d="M-5.27,-0.42 L-6.07,2.83 L-2.27,1.05 Z"/></g>
<text x="106" y="510.5" font-family="Liberation Sans, sans-serif" font-size="12.5" fill="#131722">46.71</text>
<g fill="none" stroke="#131722"><ellipse cx="148.3" cy="505.9" rx="2.9" ry="3.6" stroke-width="1.25"/><line x1="145.3" y1="510.6" x2="150.60000000000002" y2="501.1" stroke-width="0.8"/></g>
<g fill="none" stroke="#131722"><ellipse cx="162.1" cy="505.9" rx="2.9" ry="3.6" stroke-width="1.25"/><line x1="159.1" y1="510.6" x2="164.4" y2="501.1" stroke-width="0.8"/></g>
<g fill="none" stroke="#131722"><ellipse cx="175.9" cy="505.9" rx="2.9" ry="3.6" stroke-width="1.25"/><line x1="172.9" y1="510.6" x2="178.20000000000002" y2="501.1" stroke-width="0.8"/></g>
<g fill="none" stroke="#131722"><ellipse cx="189.7" cy="505.9" rx="2.9" ry="3.6" stroke-width="1.25"/><line x1="186.7" y1="510.6" x2="192.0" y2="501.1" stroke-width="0.8"/></g>
<text x="4.2" y="619" font-family="Liberation Sans, sans-serif" font-size="11.9" fill="#50535e">MACD 12 26 close 9 EMA EMA</text>
<circle cx="187.6" cy="614.4" r="8.7" fill="#e8e0ff"/>
<g transform="translate(187.6,614.4)" fill="#6a1bff"><path d="M-4.32,-1.57 A4.6,4.6 0 0 1 4.17,-1.94" fill="none" stroke="#6a1bff" stroke-width="1.5"/><path d="M5.27,0.42 L6.07,-2.83 L2.27,-1.05 Z"/><path d="M4.32,1.57 A4.6,4.6 0 0 1 -4.17,1.94" fill="none" stroke="#6a1bff" stroke-width="1.5"/><path d="M-5.27,-0.42 L-6.07,2.83 L-2.27,1.05 Z"/></g>
<text x="205.7" y="619" font-family="Liberation Sans, sans-serif" font-size="12.5" fill="#f9c0bf">−100.70</text>
<text x="257.6" y="619" font-family="Liberation Sans, sans-serif" font-size="12.5" fill="#2962ff">−166.98</text>
<text x="308.8" y="619" font-family="Liberation Sans, sans-serif" font-size="12.5" fill="#ff6d00">−66.28</text>
<g fill="#ffffff" stroke="#ffffff" stroke-width="4.6" stroke-linejoin="round"><path d="M7.1,629.9 H18.9 V645 H13.2 V635.6 H7.1 Z"/><circle cx="24" cy="632.7" r="2.5"/><path d="M28.3,629.9 H36.8 L31.1,645 H24 Z"/><text transform="translate(44,646) scale(0.935,1)" x="0" y="0" font-family="Liberation Sans, sans-serif" font-weight="bold" font-size="22.2">TradingView</text></g>
<g fill="#131722"><path d="M7.1,629.9 H18.9 V645 H13.2 V635.6 H7.1 Z"/><circle cx="24" cy="632.7" r="2.5"/><path d="M28.3,629.9 H36.8 L31.1,645 H24 Z"/><text transform="translate(44,646) scale(0.935,1)" x="0" y="0" font-family="Liberation Sans, sans-serif" font-weight="bold" font-size="22.2">TradingView</text></g>
<rect x="0" y="659" width="849" height="1" fill="#50535e"/>
<text x="14.5" y="677" font-family="Liberation Sans, sans-serif" font-size="11.6" fill="#50535e" stroke="#50535e" stroke-width="0.4" text-anchor="middle">May</text>
<text x="112.5" y="677" font-family="Liberation Sans, sans-serif" font-size="11.6" fill="#50535e" stroke="#50535e" stroke-width="0.4" text-anchor="middle">Jun</text>
<text x="204.5" y="677" font-family="Liberation Sans, sans-serif" font-size="11.6" fill="#50535e" stroke="#50535e" stroke-width="0.4" text-anchor="middle">Jul</text>
<text x="306.5" y="677" font-family="Liberation Sans, sans-serif" font-size="11.6" fill="#50535e" stroke="#50535e" stroke-width="0.4" text-anchor="middle">Aug</text>
<text x="403.5" y="677" font-family="Liberation Sans, sans-serif" font-size="11.6" fill="#50535e" stroke="#50535e" stroke-width="0.4" text-anchor="middle">Sep</text>
<text x="500.5" y="677" font-family="Liberation Sans, sans-serif" font-size="11.6" fill="#50535e" stroke="#50535e" stroke-width="0.4" text-anchor="middle">Oct</text>
<text x="607.5" y="677" font-family="Liberation Sans, sans-serif" font-size="11.6" fill="#50535e" stroke="#50535e" stroke-width="0.4" text-anchor="middle">Nov</text>
<text x="694.5" y="677" font-family="Liberation Sans, sans-serif" font-size="11.6" fill="#50535e" stroke="#50535e" stroke-width="0.4" text-anchor="middle">Dec</text>
<rect x="780" y="0" width="1" height="686" fill="#50535e"/>
<text x="789" y="457.30" font-family="Liberation Sans, sans-serif" font-size="12" fill="#50535e">17,000.00</text>
<text x="789" y="423.10" font-family="Liberation Sans, sans-serif" font-size="12" fill="#50535e">18,000.00</text>
<text x="789" y="388.90" font-family="Liberation Sans, sans-serif" font-size="12" fill="#50535e">19,000.00</text>
<text x="789" y="354.70" font-family="Liberation Sans, sans-serif" font-size="12" fill="#50535e">20,000.00</text>
<text x="789" y="320.50" font-family="Liberation Sans, sans-serif" font-size="12" fill="#50535e">21,000.00</text>
<text x="789" y="286.30" font-family="Liberation Sans, sans-serif" font-size="12" fill="#50535e">22,000.00</text>
<text x="789" y="252.10" font-family="Liberation Sans, sans-serif" font-size="12" fill="#50535e">23,000.00</text>
<text x="789" y="217.90" font-family="Liberation Sans, sans-serif" font-size="12" fill="#50535e">24,000.00</text>
<text x="789" y="183.70" font-family="Liberation Sans, sans-serif" font-size="12" fill="#50535e">25,000.00</text>
<text x="789" y="149.50" font-family="Liberation Sans, sans-serif" font-size="12" fill="#50535e">26,000.00</text>
<text x="789" y="115.30" font-family="Liberation Sans, sans-serif" font-size="12" fill="#50535e">27,000.00</text>
<text x="789" y="81.10" font-family="Liberation Sans, sans-serif" font-size="12" fill="#50535e">28,000.00</text>
<text x="789" y="46.90" font-family="Liberation Sans, sans-serif" font-size="12" fill="#50535e">29,000.00</text>
<text x="789" y="12.70" font-family="Liberation Sans, sans-serif" font-size="12" fill="#50535e">30,000.00</text>
<text x="789" y="500.3" font-family="Liberation Sans, sans-serif" font-size="12" fill="#50535e">80.00</text>
<text x="789" y="537.1" font-family="Liberation Sans, sans-serif" font-size="12" fill="#50535e">60.00</text>
<text x="789" y="573.9" font-family="Liberation Sans, sans-serif" font-size="12" fill="#50535e">40.00</text>
<text x="789" y="637.8" font-family="Liberation Sans, sans-serif" font-size="12" fill="#50535e">0.00</text>
<path d="M781,123.8 H845 a2,2 0 0 1 2,2 V138.3 a2,2 0 0 1 -2,2 H781 Z" fill="#000"/>
<text x="789" y="136.35" font-family="Liberation Sans, sans-serif" font-size="12" fill="#fff" stroke="#fff" stroke-width="0.45">26,422.75</text>
<path d="M781,157.9 H845 a2,2 0 0 1 2,2 V172.4 a2,2 0 0 1 -2,2 H781 Z" fill="#000"/>
<text x="789" y="170.45" font-family="Liberation Sans, sans-serif" font-size="12" fill="#fff" stroke="#fff" stroke-width="0.45">25,428.75</text>
<path d="M781,264.9 H845 a2,2 0 0 1 2,2 V279.4 a2,2 0 0 1 -2,2 H781 Z" fill="#000"/>
<text x="789" y="277.45" font-family="Liberation Sans, sans-serif" font-size="12" fill="#fff" stroke="#fff" stroke-width="0.45">22,294.50</text>
<path d="M781,329.1 H845 a2,2 0 0 1 2,2 V343.6 a2,2 0 0 1 -2,2 H781 Z" fill="#000"/>
<text x="789" y="341.65" font-family="Liberation Sans, sans-serif" font-size="12" fill="#fff" stroke="#fff" stroke-width="0.45">20,437.25</text>
<path d="M781,178 H845 a2,2 0 0 1 2,2 V206.8 a2,2 0 0 1 -2,2 H781 Z" fill="#ef5350"/>
<text x="789" y="190" font-family="Liberation Sans, sans-serif" font-size="12" font-weight="bold" fill="#fff">24,840.25</text>
<text x="789" y="204" font-family="Liberation Sans, sans-serif" font-size="12" fill="#fff" fill-opacity="0.85">12:33:22</text>
<path d="M781,208.8 H845 a2,2 0 0 1 2,2 V223.60000000000002 a2,2 0 0 1 -2,2 H781 Z" fill="#000"/>
<text x="789" y="221.50" font-family="Liberation Sans, sans-serif" font-size="12" fill="#fff" stroke="#fff" stroke-width="0.45">24,076.50</text>
<g fill="none" stroke="#131722" stroke-width="1"><path d="M812.9,667.6 H820.3 L823.8,673.4 L820.3,679.2 H812.9 L809.4,673.4 Z" stroke-linejoin="round"/><circle cx="816.5" cy="673.4" r="1.9"/></g>
<rect x="0" y="0" width="200" height="41" fill="#ffffff" fill-opacity="0.72"/>
<rect x="3.5" y="4.5" width="79" height="33" rx="6" fill="#fff" stroke="#f23645" stroke-width="1"/>
<text x="42.9" y="18" font-family="Liberation Sans, sans-serif" font-size="12.8" fill="#f23645" stroke="#f23645" stroke-width="0.35" text-anchor="middle">24,840.75</text>
<text transform="translate(42.9,31.8) scale(0.89,1)" x="0" y="0" font-family="Liberation Sans, sans-serif" font-size="10.8" fill="#f23645" text-anchor="middle">SELL</text>
<text x="91" y="23.7" font-family="Liberation Sans, sans-serif" font-size="10.3" fill="#131722">0.25</text>
<rect x="118.5" y="4.5" width="79" height="33" rx="6" fill="#fff" stroke="#2962ff" stroke-width="1"/>
<text x="158.8" y="18" font-family="Liberation Sans, sans-serif" font-size="12.8" fill="#2962ff" stroke="#2962ff" stroke-width="0.35" text-anchor="middle">24,841.00</text>
<text transform="translate(158.2,31.8) scale(0.91,1)" x="0" y="0" font-family="Liberation Sans, sans-serif" font-size="10.8" fill="#2962ff" text-anchor="middle">BUY</text>
</svg>
</body></html>
